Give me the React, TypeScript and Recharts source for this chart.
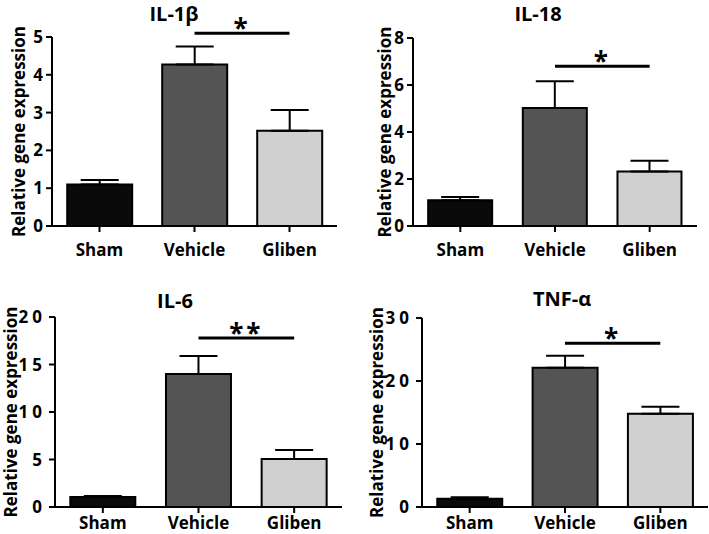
import { BarChart, Bar, XAxis, YAxis, ErrorBar, Cell, ReferenceLine } from "recharts";

const groups = ["Sham", "Vehicle", "Gliben"];
const groupColors = ["#0a0a0a", "#545454", "#d0d0d0"];

const il1bMean = [1.1, 4.27, 2.52];
const il1bSem = [0.12, 0.48, 0.55];
const il1bTicks = [0, 1, 2, 3, 4, 5];

const il18Mean = [1.1, 5.02, 2.32];
const il18Sem = [0.13, 1.14, 0.46];
const il18Ticks = [0, 2, 4, 6, 8];

const il6Mean = [1.05, 14.0, 5.05];
const il6Sem = [0.1, 1.9, 0.95];
const il6Ticks = [0, 5, 10, 15, 20];

const tnfMean = [1.3, 22.1, 14.8];
const tnfSem = [0.25, 1.9, 1.1];
const tnfTicks = [0, 10, 20, 30];

const FONT = "'Open Sans', 'DejaVu Sans', sans-serif";
const axisStroke = { stroke: "#000", strokeWidth: 2 };

type PanelProps = {
  title: string;
  means: number[];
  sems: number[];
  ticks: number[];
  sigAt: number;
  sigMark: string;
  left: number;
  top: number;
  width: number;
  height: number;
  margin: { top: number; right: number; bottom: number; left: number };
  xAxisHeight: number;
  xTickMargin: number;
  labelOffset: number;
  titleX: number;
  titleY: number;
  tickSpacing?: number;
};

function Panel(p: PanelProps) {
  const rows = groups.map((g, i) => ({
    group: g,
    mean: p.means[i],
    err: [0, p.sems[i]],
  }));
  const top = p.ticks[p.ticks.length - 1];
  return (
    <div style={{ position: "absolute", left: p.left, top: p.top, width: p.width, height: p.height }}>
      <div
        style={{
          position: "absolute",
          left: p.titleX - 60,
          top: p.titleY - 10,
          width: 120,
          lineHeight: "20px",
          textAlign: "center",
          fontFamily: FONT,
          fontWeight: 700,
          fontSize: 20,
          color: "#000",
        }}
      >
        {p.title}
      </div>
      <BarChart width={p.width} height={p.height} data={rows} margin={p.margin} barCategoryGap="16%">
        <XAxis
          dataKey="group"
          height={p.xAxisHeight}
          axisLine={axisStroke}
          tickLine={axisStroke}
          tickSize={6}
          tickMargin={p.xTickMargin}
          tick={{ fontSize: 17, fontWeight: 700, fill: "#000", fontFamily: FONT }}
        />
        <YAxis
          width={44}
          domain={[0, top]}
          ticks={p.ticks}
          interval={0}
          axisLine={axisStroke}
          tickLine={axisStroke}
          tickSize={6}
          tickMargin={3}
          tick={{
            fontSize: 17,
            fontWeight: 700,
            fill: "#000",
            fontFamily: FONT,
            letterSpacing: p.tickSpacing ?? 0,
          }}
          label={{
            value: "Relative gene expression",
            angle: -90,
            position: "insideLeft",
            offset: p.labelOffset,
            textAnchor: "middle",
            style: { fontSize: 17, fontWeight: 700, fill: "#000", fontFamily: FONT, textAnchor: "middle" },
          }}
        />
        <Bar dataKey="mean" stroke="#000" strokeWidth={2} isAnimationActive={false}>
          {rows.map((r, i) => (
            <Cell key={r.group} fill={groupColors[i]} />
          ))}
          <ErrorBar dataKey="err" direction="y" width={19} stroke="#000" strokeWidth={2} isAnimationActive={false} />
        </Bar>
        <ReferenceLine
          segment={[
            { x: "Vehicle", y: p.sigAt },
            { x: "Gliben", y: p.sigAt },
          ]}
          stroke="#000"
          strokeWidth={3}
          ifOverflow="visible"
          label={{
            value: p.sigMark,
            position: "top",
            offset: -5,
            style: { fontSize: 26, fontWeight: 700, fill: "#000", fontFamily: FONT, letterSpacing: 3 },
          }}
        />
      </BarChart>
    </div>
  );
}

export default function App() {
  return (
    <div style={{ position: "absolute", left: 0, top: 0, width: 709, height: 534, background: "#fff" }}>
      <Panel
        title="IL-1β"
        means={il1bMean}
        sems={il1bSem}
        ticks={il1bTicks}
        sigAt={5.1}
        sigMark="*"
        left={0}
        top={0}
        width={355}
        height={270}
        margin={{ top: 37, right: 18, bottom: 14, left: 8 }}
        xAxisHeight={30}
        xTickMargin={12}
        labelOffset={11}
        titleX={174}
        titleY={14}
      />
      <Panel
        title="IL-18"
        means={il18Mean}
        sems={il18Sem}
        ticks={il18Ticks}
        sigAt={6.8}
        sigMark="*"
        left={355}
        top={0}
        width={354}
        height={270}
        margin={{ top: 38, right: 12, bottom: 14, left: 14 }}
        xAxisHeight={30}
        xTickMargin={12}
        labelOffset={16}
        titleX={183}
        titleY={14}
      />
      <Panel
        title="IL-6"
        means={il6Mean}
        sems={il6Sem}
        ticks={il6Ticks}
        sigAt={17.8}
        sigMark="**"
        left={0}
        top={270}
        width={355}
        height={264}
        margin={{ top: 47, right: 13, bottom: 0, left: 11 }}
        xAxisHeight={27}
        xTickMargin={4}
        labelOffset={0}
        titleX={175}
        titleY={31}
        tickSpacing={4}
      />
      <Panel
        title="TNF-α"
        means={tnfMean}
        sems={tnfSem}
        ticks={tnfTicks}
        sigAt={26}
        sigMark="*"
        left={355}
        top={270}
        width={354}
        height={264}
        margin={{ top: 48, right: 1, bottom: 0, left: 23 }}
        xAxisHeight={27}
        xTickMargin={4}
        labelOffset={-1}
        titleX={207}
        titleY={29}
        tickSpacing={4}
      />
    </div>
  );
}
